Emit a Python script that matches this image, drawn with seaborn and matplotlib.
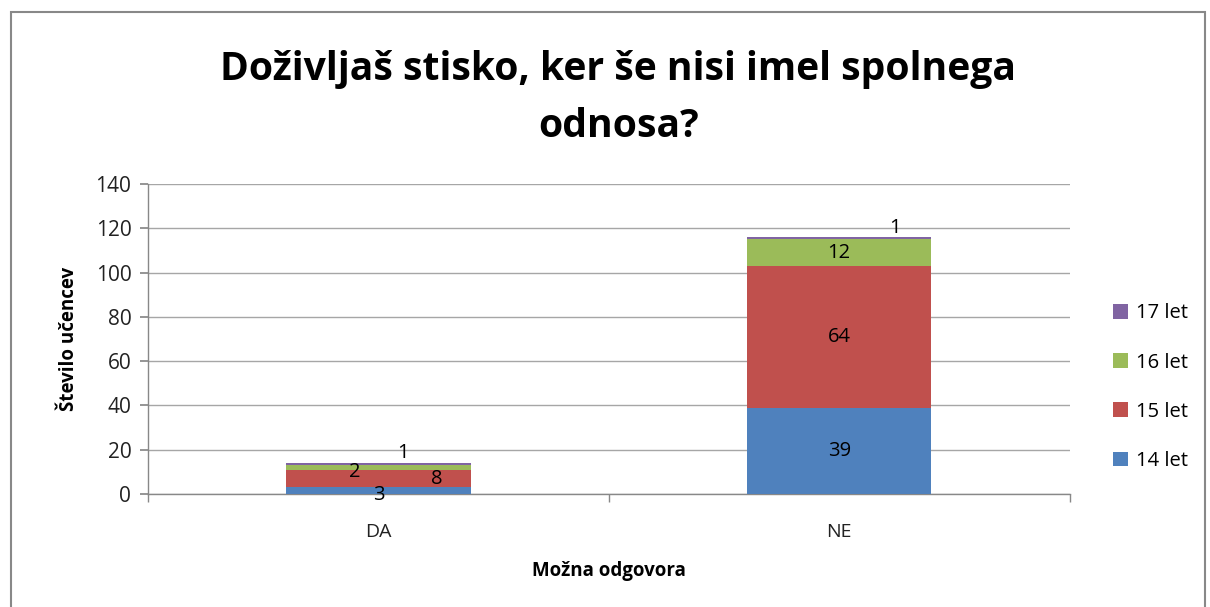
import matplotlib
matplotlib.use("Agg")
import matplotlib.pyplot as plt
from matplotlib.patches import Patch, Rectangle
import numpy as np
import pandas as pd
import seaborn as sns

categories = ["DA", "NE"]
age_groups = ["14 let", "15 let", "16 let", "17 let"]
v14 = [3, 39]
v15 = [8, 64]
v16 = [2, 12]
v17 = [1, 1]
colors = ["#4F81BD", "#C0504D", "#9BBB59", "#8064A2"]

title = "Doživljaš stisko, ker še nisi imel spolnega\nodnosa?"
xlabel = "Možna odgovora"
ylabel = "Število učencev"

sns.set_theme(style="white")
plt.rcParams["font.family"] = ["Open Sans", "DejaVu Sans"]
plt.rcParams["text.color"] = "black"
plt.rcParams["axes.labelcolor"] = "black"

fig = plt.figure(figsize=(12.1, 6.07), dpi=100)
ax = fig.add_axes([0.1223, 0.186, 0.884 - 0.1223, 0.697 - 0.186])

layers = [v14, v15, v16, v17]
cum = np.cumsum(np.array(layers), axis=0)
# draw from top to bottom (overlap technique)
for i in range(len(layers) - 1, -1, -1):
    df = pd.DataFrame({"cat": categories, "val": cum[i]})
    sns.barplot(data=df, x="cat", y="val", color=colors[i], saturation=1,
                width=0.4, ax=ax, linewidth=0, zorder=3)

ax.set_xlim(-0.5, 1.5)
ax.set_ylim(0, 140)
ax.set_yticks(np.arange(0, 141, 20))
ax.yaxis.grid(True, color="#a6a6a6", linewidth=1, zorder=0)
ax.set_axisbelow(True)
for s in ["top", "right"]:
    ax.spines[s].set_visible(False)
for s in ["left", "bottom"]:
    ax.spines[s].set_color("#888888")
    ax.spines[s].set_linewidth(1)

ax.set_xticks([0, 1])
ax.set_xticklabels(categories, fontsize=14)
ax.set_xticks([-0.5, 0.5, 1.5], minor=True)
ax.tick_params(axis="x", which="major", length=0, pad=21, labelcolor="#222222")
ax.tick_params(axis="x", which="minor", length=6, color="#888888", direction="out", bottom=True)
ax.tick_params(axis="y", length=6, color="#888888", direction="out", labelsize=15, pad=6,
               left=True, labelcolor="#222222")

ax.set_xlabel(xlabel, fontsize=13.5, fontweight="bold", labelpad=14)
ax.set_ylabel(ylabel, fontsize=13.5, fontweight="bold", labelpad=12)

fig.suptitle(title, fontsize=28.2, fontweight="bold", x=0.511, y=0.918,
             linespacing=1.62, color="black")

# data labels
offsets = {
    (0, 0): (0, -3), (0, 1): (42, 0), (0, 2): (-17, -3), (0, 3): (18, 8),
    (1, 0): (0, 0), (1, 1): (0, 0), (1, 2): (0, 0), (1, 3): (40, 7),
}
for ci in range(len(categories)):
    base = 0
    for li, lay in enumerate(layers):
        v = lay[ci]
        yc = base + v / 2
        dx, dy = offsets[(ci, li)]
        ax.annotate(str(v), (ci, yc), xytext=(dx, dy), textcoords="offset points",
                    ha="center", va="center", fontsize=14.5, color="black", zorder=5)
        base += v

handles = [Patch(facecolor=colors[i], edgecolor="none", label=age_groups[i])
           for i in range(len(age_groups) - 1, -1, -1)]
fig.legend(handles=handles, loc="center left", bbox_to_anchor=(0.905, 0.362),
           frameon=False, fontsize=14.5, handlelength=0.75, handleheight=0.75,
           labelspacing=1.45, handletextpad=0.4)

fig.add_artist(Rectangle((0.009, -0.02), 0.987, 1.0, transform=fig.transFigure,
                         fill=False, edgecolor="#888888", linewidth=1.5))

fig.savefig("out.png", dpi=100)
